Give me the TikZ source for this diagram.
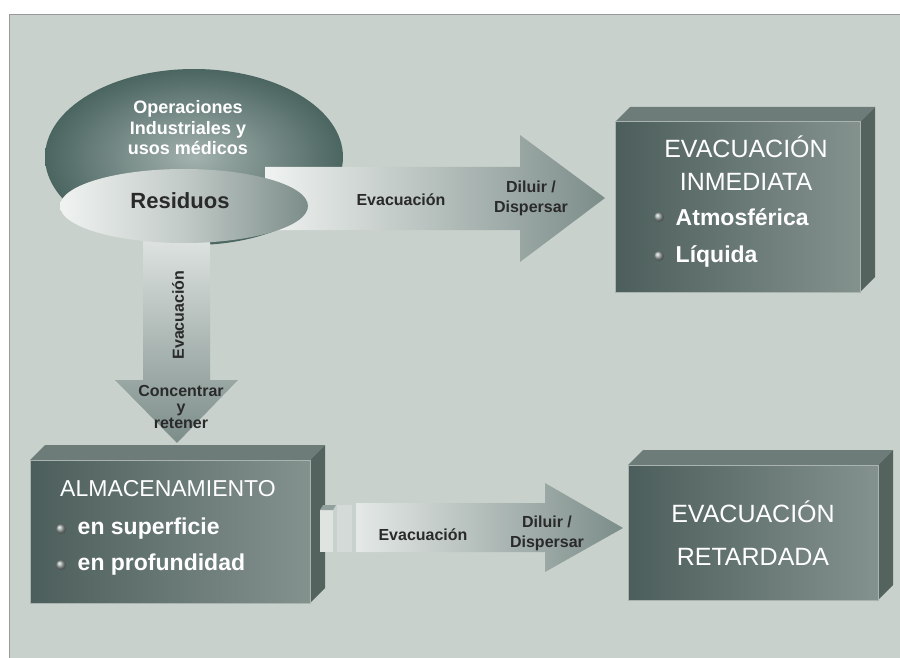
\documentclass[tikz,border=0pt]{standalone}
\usepackage{fontspec}
\setmainfont{Liberation Sans}
\usetikzlibrary{positioning, shapes.geometric}
\definecolor{fondo}{HTML}{C9D1CC}
\definecolor{pizarra}{HTML}{4C5E5B}
\definecolor{pizarraclaro}{HTML}{84928E}
\definecolor{colortapa}{HTML}{6D7C79}
\definecolor{colorlado}{HTML}{55635F}
\definecolor{tinta}{HTML}{2A2A2A}
\definecolor{flechaclaro}{HTML}{F0F3F1}
\definecolor{flechaoscuro}{HTML}{7C8D89}
\definecolor{discoclaro}{HTML}{A3B2AE}
\definecolor{discooscuro}{HTML}{4B6561}
\tikzset{
    frente/.style={rectangle, draw=pizarraclaro!70!white, line width=1pt,
        left color=pizarra, right color=pizarraclaro, inner sep=0pt},
    tapa/.style={fill=colortapa},
    lado/.style={fill=colorlado},
    titulo/.style={text=white, font=\fontsize{25}{33}\selectfont, align=center},
    vineta/.style={circle, minimum size=10pt, inner sep=0pt, ball color=pizarraclaro!80!white},
    punto/.style={text=white, font=\bfseries\fontsize{23}{26}\selectfont},
    etiqueta/.style={text=tinta, font=\bfseries\fontsize{16}{20}\selectfont, align=center},
    disco/.style={text=white, font=\bfseries\fontsize{18}{20.5}\selectfont, align=center}}

\begin{document}
\begin{tikzpicture}[x=1pt, y=-1pt]
    \useasboundingbox (0,0) rectangle (900,658);
    % Fondo
    \fill[white] (0,0) rectangle (900,658);
    \fill[fondo] (9,14) rectangle (900,658);
    \draw[gray!80] (9,658) -- (9,14) -- (900,14);

    % Disco de residuos
    \path[shading=radial, inner color=discoclaro, outer color=discooscuro] (194,157) ellipse (149 and 88);

    % Flecha hacia la derecha
    \path[left color=flechaclaro, right color=flechaoscuro]
        (265,167) -- (520,167) -- (520,135) -- (605,198) -- (520,262) -- (520,230) -- (265,230) -- cycle;
    % Flecha hacia abajo
    \path[top color=flechaclaro, bottom color=flechaoscuro]
        (143,200) -- (210,200) -- (210,380) -- (238,380) -- (177,443) -- (115,380) -- (143,380) -- cycle;

    \path[left color=flechaclaro, right color=flechaoscuro, middle color=flechaclaro!60!flechaoscuro]
        (184,206) ellipse (124 and 37);

    \node[disco] (origen) at (188,128) {Operaciones\\Industriales y\\usos médicos};
    \node[text=tinta, font=\bfseries\fontsize{22}{26}\selectfont] (residuos) at (180,201) {Residuos};

    \node[etiqueta] (evac1) at (401,200) {Evacuación};
    \node[etiqueta] (diluir1) at (531,198) {Diluir /\\Dispersar};
    \node[etiqueta, rotate=90] (evac2) at (178,315) {Evacuación};
    \node[etiqueta, font=\bfseries\fontsize{16}{16}\selectfont] (concentrar) at (181,407) {Concentrar\\y\\retener};

    % Caja: evacuacion inmediata
    \path[tapa] (615,122) -- (630,107) -- (875,107) -- (860,122) -- cycle;
    \path[lado] (860,122) -- (875,107) -- (875,277) -- (860,292) -- cycle;
    \node[frente, minimum width=245pt, minimum height=170pt] (inmediata) at (737.5,207) {};
    \node[titulo] (tinmediata) at (746,163) {EVACUACIÓN\\INMEDIATA};
    \node[vineta] (b1) at (659,217) {};
    \node[punto, right=8pt of b1] (atmos) {Atmosférica};
    \node[vineta] (b2) at (659,256) {};
    \node[punto, right=8pt of b2] (liquida) {Líquida};

    % Caja: almacenamiento
    \path[tapa] (30,460) -- (45,445) -- (325,445) -- (310,460) -- cycle;
    \path[lado] (310,460) -- (325,445) -- (325,588) -- (310,603) -- cycle;
    \node[frente, minimum width=280pt, minimum height=143pt] (almacen) at (170,531.5) {};
    \node[titulo, font=\fontsize{23}{28}\selectfont] (talmacen) at (168,489) {ALMACENAMIENTO};
    \node[vineta] (b3) at (61,529) {};
    \node[punto, right=8pt of b3] (superficie) {en superficie};
    \node[vineta] (b4) at (61,565) {};
    \node[punto, right=8pt of b4] (profundidad) {en profundidad};

    % Flecha inferior
    \fill[flechaclaro!85!flechaoscuro] (320,510) rectangle (333,552);
    \fill[flechaclaro!75!flechaoscuro] (337,505) rectangle (352,552);
    \fill[flechaoscuro!80!flechaclaro] (320,510) -- (323,505) -- (336,505) -- (333,510) -- cycle;
    \path[left color=flechaclaro!90!flechaoscuro, right color=flechaoscuro]
        (356,503) -- (545,503) -- (545,483) -- (623,528) -- (545,572) -- (545,552) -- (356,552) -- cycle;
    \node[etiqueta] (evac3) at (423,535) {Evacuación};
    \node[etiqueta] (diluir2) at (547,533) {Diluir /\\Dispersar};

    % Caja: evacuacion retardada
    \path[tapa] (628,465) -- (643,450) -- (893,450) -- (878,465) -- cycle;
    \path[lado] (878,465) -- (893,450) -- (893,585) -- (878,600) -- cycle;
    \node[frente, minimum width=250pt, minimum height=135pt] (retardada) at (753,532.5) {};
    \node[titulo, font=\fontsize{25}{43}\selectfont] (tretardada) at (753,533) {EVACUACIÓN\\RETARDADA};
\end{tikzpicture}
\end{document}
